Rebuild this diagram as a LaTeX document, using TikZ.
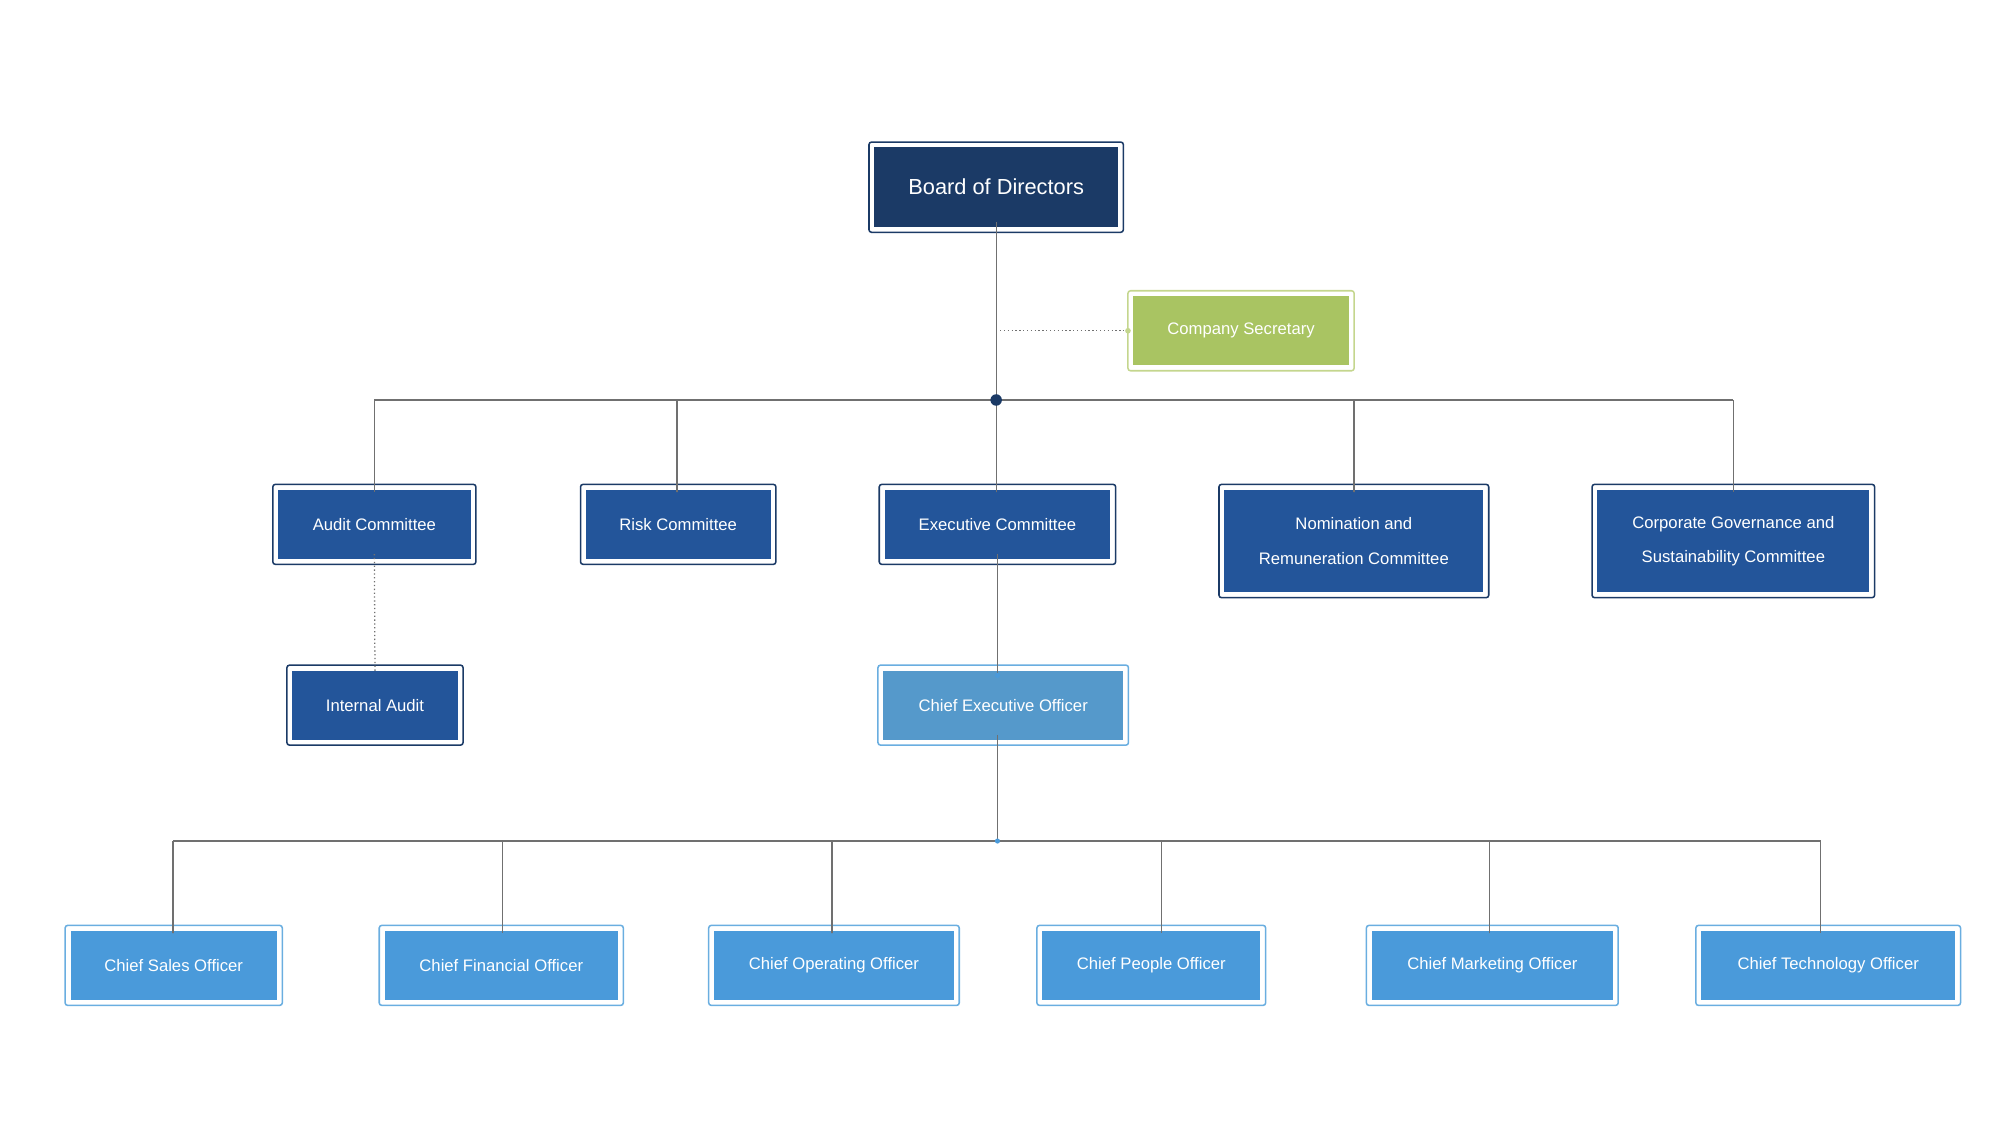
\documentclass[tikz,border=0pt]{standalone}
\usepackage{fontspec}
\setmainfont{Liberation Sans}
\begin{document}
\begin{tikzpicture}[x=1pt,y=-1pt,
  box/.style={inner sep=0pt,text=white,align=center,font=\fontsize{13}{27}\selectfont},
  dark/.style={box,fill=cBrd,font=\fontsize{17}{20}\selectfont},
  com/.style={box,fill=cCom},
  off/.style={box,fill=cOff},
  ceo/.style={box,fill=cCeo},
  sec/.style={box,fill=cGr},
  ln/.style={draw=cLin,line width=1pt},
  dt/.style={ln,dotted}]
\definecolor{cBrd}{HTML}{1B3A66}
\definecolor{cCom}{HTML}{23559A}
\definecolor{cOff}{HTML}{4A9ADA}
\definecolor{cCeo}{HTML}{5599CB}
\definecolor{cGr}{HTML}{A9C462}
\definecolor{cGrb}{HTML}{C4D68E}
\definecolor{cOfb}{HTML}{6AAEE0}
\definecolor{cLin}{HTML}{707070}
\useasboundingbox (0,0) rectangle (1560,890);
\newcommand\bx[8]{% name style x1 x2 y1 y2 text border
  \node[#2,minimum width={#4-#3-8},minimum height={#6-#5-8}] (#1) at ({(#3+#4)/2},{(#5+#6)/2}) {#7};
  \draw[#8,line width=1.2pt,rounded corners=2pt] ([shift={(-4,-4)}]#1.north west) rectangle ([shift={(4,4)}]#1.south east);}
\coordinate (j1) at (777,312);
\coordinate (j2) at (778,656);
\bx{bod}{dark}{678}{876}{111}{181}{Board of Directors}{cBrd}
\bx{sec}{sec}{880}{1056}{227}{289}{Company Secretary}{cGrb}
\bx{aud}{com}{213}{371}{378}{440}{Audit Committee}{cBrd}
\bx{risk}{com}{453}{605}{378}{440}{Risk Committee}{cBrd}
\bx{exe}{com}{686}{870}{378}{440}{Executive Committee}{cBrd}
\bx{nom}{com}{951}{1161}{378}{466}{Nomination and\\Remuneration Committee}{cBrd}
\bx{cg}{com}{1242}{1462}{378}{466}{Corporate Governance and\\Sustainability Committee}{cBrd}
\bx{ia}{com}{224}{361}{519}{581}{Internal Audit}{cBrd}
\bx{ceo}{ceo}{685}{880}{519}{581}{Chief Executive Officer}{cOfb}
\bx{cso}{off}{51}{220}{722}{784}{Chief Sales Officer}{cOfb}
\bx{cfo}{off}{296}{486}{722}{784}{Chief Financial Officer}{cOfb}
\bx{coo}{off}{553}{748}{722}{784}{Chief Operating Officer}{cOfb}
\bx{cpo}{off}{809}{987}{722}{784}{Chief People Officer}{cOfb}
\bx{cmo}{off}{1066}{1262}{722}{784}{Chief Marketing Officer}{cOfb}
\bx{cto}{off}{1323}{1529}{722}{784}{Chief Technology Officer}{cOfb}
\draw[ln] ([yshift=4]bod.south) -- (j1);
\coordinate (sj) at (780,258);
\draw[dt] (sj) -- ([xshift=-4]sec.west);
\fill[cGrb] ([xshift=-4]sec.west) circle (2.2);
\draw[ln] (292,312) -- (1352,312);
\foreach \n/\x in {aud/292,risk/528,exe/777,nom/1056,cg/1352}{
  \draw[ln] (\x,312) -- ([yshift=-4]\n.north -| \x,0);
  \fill[cCom] ([yshift=-4]\n.north -| \x,0) circle (2);}
\fill[cBrd] (j1) circle (4.5);
\draw[dt] ([yshift=4]aud.south) -- ([yshift=-4]ia.north);
\fill[cCom] ([yshift=-4]ia.north) circle (2);
\draw[ln] ([yshift=4]exe.south) -- ([yshift=-4]ceo.north -| exe.south);
\fill[cOff] ([yshift=-4]ceo.north -| exe.south) circle (2);
\draw[ln] ([yshift=4]ceo.south -| exe.south) -- (j2);
\draw[ln] (135,656) -- (1420,656);
\fill[cOff] (j2) circle (2);
\foreach \n/\x in {cso/135,cfo/392,coo/649,cpo/906,cmo/1162,cto/1420}{
  \draw[ln] (\x,656) -- ([yshift=-4]\n.north -| \x,0);
  \fill[cOff] ([yshift=-4]\n.north -| \x,0) circle (2);}
\end{tikzpicture}
\end{document}
